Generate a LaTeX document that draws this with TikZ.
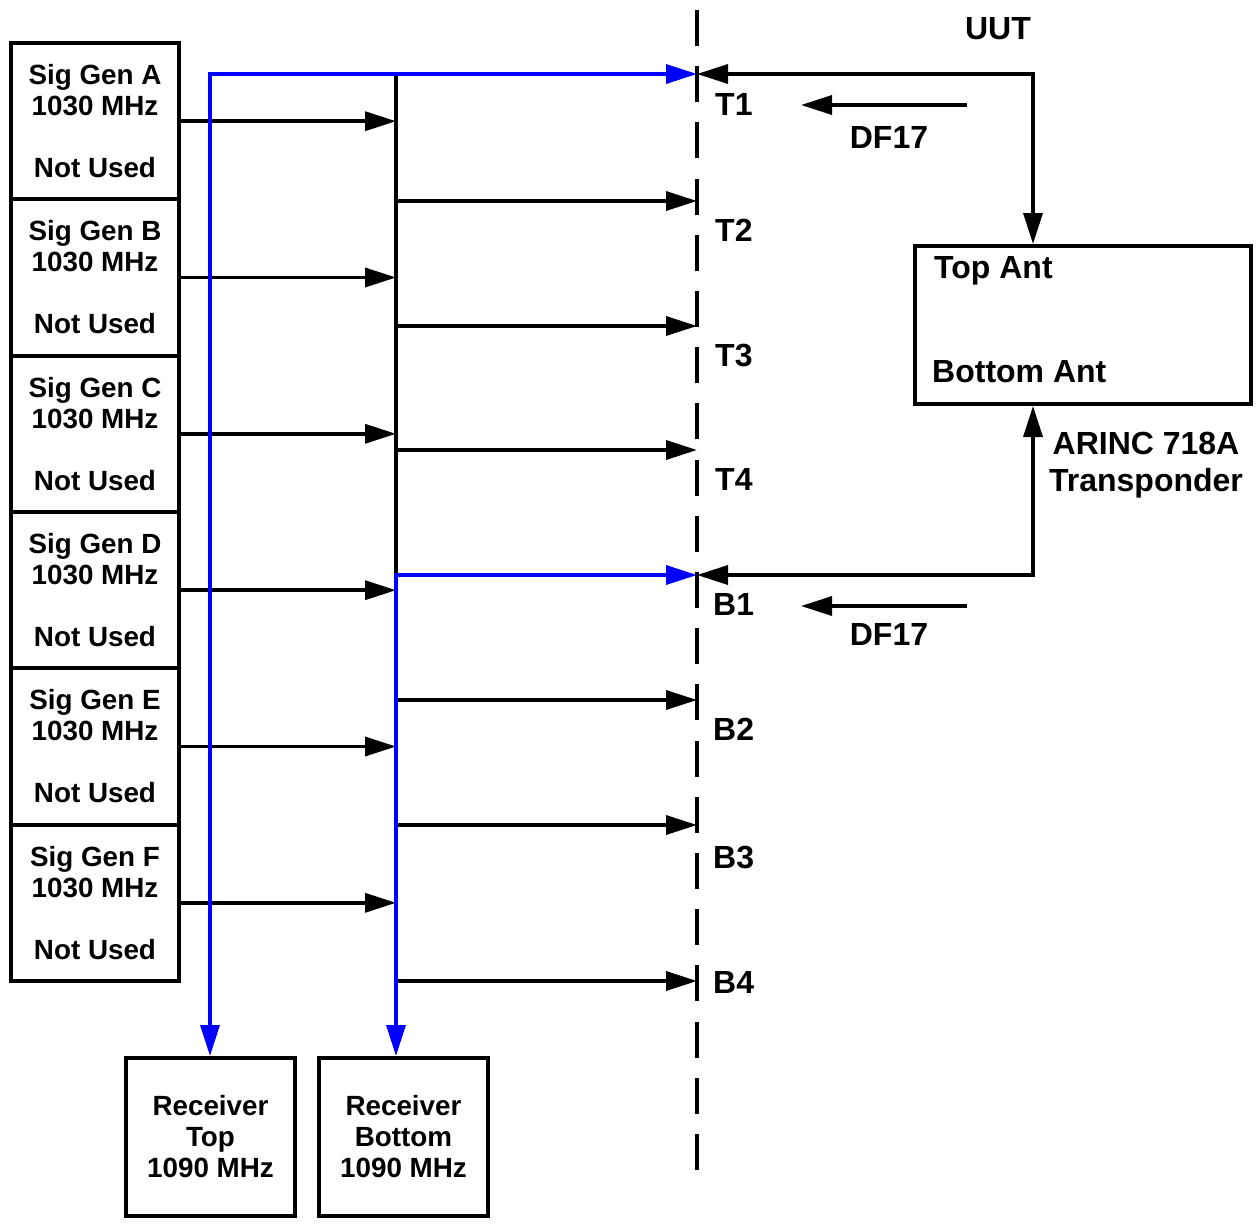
\documentclass[tikz,border=0pt]{standalone}
\usepackage{fontspec}
\setmainfont{Liberation Sans}
\usetikzlibrary{arrows.meta}
\definecolor{sigblue}{RGB}{0,0,255}
\newcommand\sgfont{\fontsize{27.8pt}{31pt}\selectfont\bfseries}
\newcommand\lblfont{\fontsize{32pt}{37pt}\selectfont\bfseries}
\begin{document}
\begin{tikzpicture}[x=1pt,y=-1pt,
  >={Triangle[length=31pt,width=19pt]},
  sgbox/.style={draw, line width=4pt, minimum width=168pt, minimum height=156.3pt, inner sep=0pt, align=center, font=\sgfont},
  rxbox/.style={draw, line width=4pt, minimum width=169pt, minimum height=158pt, inner sep=0pt, align=center, font=\sgfont},
  antbox/.style={draw, line width=4pt, minimum width=336pt, minimum height=158pt, inner sep=0pt},
  lbl/.style={font=\lblfont, inner sep=0pt, anchor=base west},
  clbl/.style={font=\lblfont, inner sep=0pt, anchor=base},
  conn/.style={line width=3.5pt, ->},
  conntwo/.style={line width=3.5pt, <->},
  bluec/.style={line width=3.5pt, draw=sigblue, <->},
  dashln/.style={line width=4pt, dash pattern=on 36pt off 20.2pt},
  busln/.style={line width=3.5pt}
]
\useasboundingbox (0,0) rectangle (1257,1226);

% signal generators
\node[sgbox] (sgA) at (95,121.2) {Sig Gen A\\1030 MHz\\[31pt]Not Used};
\node[sgbox] (sgB) at (95,277.5) {Sig Gen B\\1030 MHz\\[31pt]Not Used};
\node[sgbox] (sgC) at (95,433.8) {Sig Gen C\\1030 MHz\\[31pt]Not Used};
\node[sgbox] (sgD) at (95,590.2) {Sig Gen D\\1030 MHz\\[31pt]Not Used};
\node[sgbox] (sgE) at (95,746.5) {Sig Gen E\\1030 MHz\\[31pt]Not Used};
\node[sgbox] (sgF) at (95,902.8) {Sig Gen F\\1030 MHz\\[31pt]Not Used};

% receivers
\node[rxbox] (rxT) at (210.5,1137) {Receiver\\Top\\1090 MHz};
\node[rxbox] (rxB) at (403.5,1137) {Receiver\\Bottom\\1090 MHz};

% antenna box
\node[antbox] (ant) at (1083,325) {};
\node[lbl] (topantl) at (934,278) {Top Ant};
\node[lbl] (botantl) at (932,382) {Bottom Ant};

% coordinates
\coordinate (dashTop) at (697,10);
\coordinate (dashBot) at (697,1170);
\coordinate (busTop) at (396,74);
\coordinate (busB1) at (396,575);
\coordinate (blueCorner) at (210,74);
\coordinate (pT1) at (697,74);
\coordinate (pT2) at (697,201);
\coordinate (pT3) at (697,326);
\coordinate (pT4) at (697,450);
\coordinate (pB1) at (697,575);
\coordinate (pB2) at (697,700);
\coordinate (pB3) at (697,825);
\coordinate (pB4) at (697,981);
\coordinate (jT) at (1033,74);
\coordinate (jB) at (1033,575);
\coordinate (df1s) at (967,105);
\coordinate (df1e) at (801,105);
\coordinate (df2s) at (967,606);
\coordinate (df2e) at (801,606);

% UUT boundary
\draw[dashln] (dashTop) -- (dashBot);

% bus
\draw[busln] (busTop) -- (busB1);

% sig gen to bus
\foreach \s in {sgA,sgB,sgC,sgD,sgE,sgF}
  \draw[conn] (\s.east) -- (\s.east -| busTop);

% bus to ports
\foreach \p in {pT2,pT3,pT4,pB2,pB3,pB4}
  \draw[conn] (\p -| busTop) -- (\p);

% blue paths
\draw[bluec] (rxT.north -| blueCorner) -- (blueCorner) -- (pT1);
\draw[bluec] (pB1) -- (busB1) -- (busB1 |- rxB.north);

% transponder connections
\draw[conntwo] (pT1) -- (jT) -- (jT |- ant.north);
\draw[conntwo] (jB |- ant.south) -- (jB) -- (pB1);

% DF17 arrows
\draw[conn] (df1s) -- (df1e);
\draw[conn] (df2s) -- (df2e);

% labels
\node[clbl] (uut) at (998,39.5) {UUT};
\node[lbl] (lT1) at (715,115.5) {T1};
\node[lbl] (lT2) at (715,241.5) {T2};
\node[lbl] (lT3) at (715,366.5) {T3};
\node[lbl] (lT4) at (715,490.5) {T4};
\node[lbl] (lB1) at (713,615.5) {B1};
\node[lbl] (lB2) at (713,740.5) {B2};
\node[lbl] (lB3) at (713,868.5) {B3};
\node[lbl] (lB4) at (713,993.5) {B4};
\node[clbl] (df1) at (889,148.5) {DF17};
\node[clbl] (df2) at (889,645.5) {DF17};
\node[clbl] (arinc) at (1146,454.5) {ARINC 718A};
\node[clbl] (xpdr) at (1146,491) {Transponder};
\end{tikzpicture}
\end{document}
